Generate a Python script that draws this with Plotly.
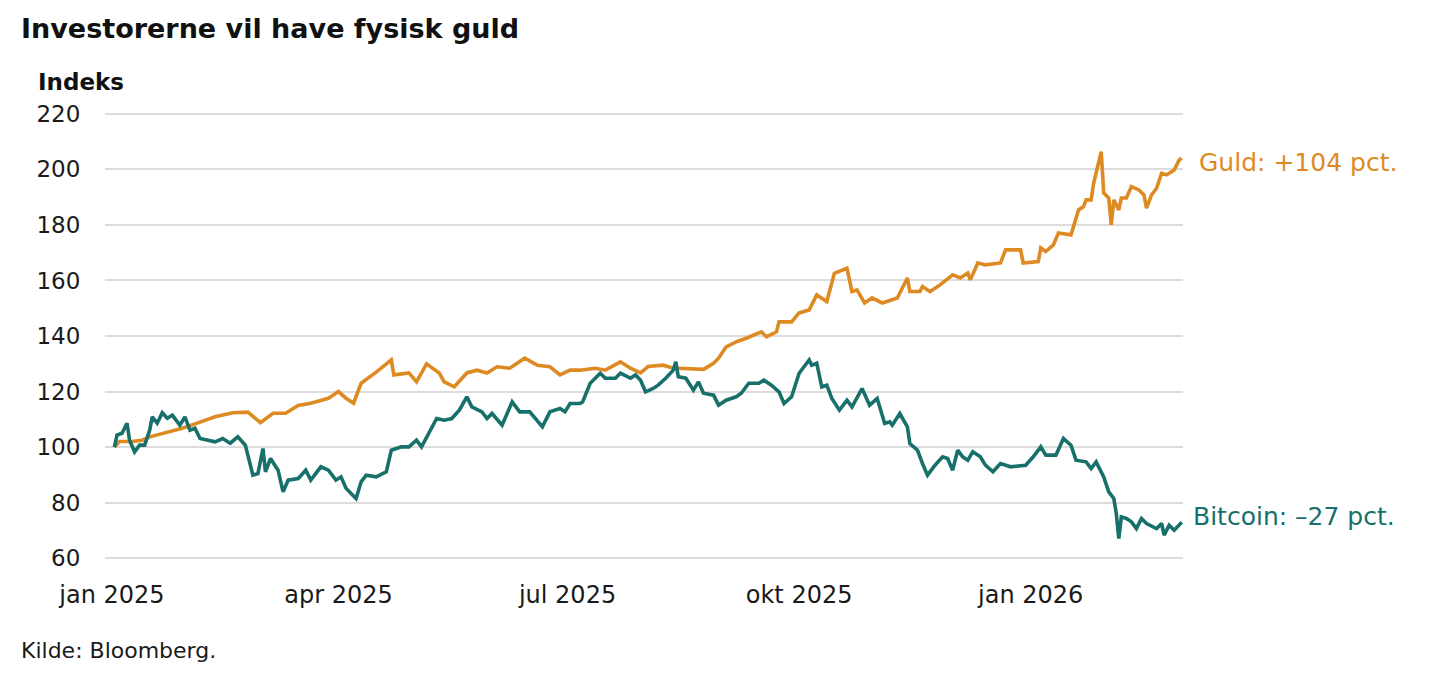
import plotly.graph_objects as go

# ---- Data (index, start = 100) ----
gold_dates = [
    "2025-01-02","2025-01-04","2025-01-09","2025-01-13","2025-01-16","2025-01-23","2025-01-29",
    "2025-02-05","2025-02-11","2025-02-18","2025-02-24","2025-03-01","2025-03-06","2025-03-11",
    "2025-03-16","2025-03-21","2025-03-28","2025-04-01","2025-04-04","2025-04-07","2025-04-10",
    "2025-04-16","2025-04-22","2025-04-23","2025-04-29","2025-05-02","2025-05-06","2025-05-11",
    "2025-05-13","2025-05-17","2025-05-22","2025-05-26","2025-05-30","2025-06-03","2025-06-08",
    "2025-06-14","2025-06-19","2025-06-24","2025-06-28","2025-07-02","2025-07-06","2025-07-12",
    "2025-07-16","2025-07-22","2025-07-26","2025-07-30","2025-08-02","2025-08-08","2025-08-12",
    "2025-08-14","2025-08-24","2025-08-28","2025-08-30","2025-09-02","2025-09-06","2025-09-10",
    "2025-09-16","2025-09-18","2025-09-22","2025-09-23","2025-09-28","2025-10-01","2025-10-05",
    "2025-10-08","2025-10-12","2025-10-15","2025-10-20","2025-10-22","2025-10-24","2025-10-27",
    "2025-10-30","2025-11-03","2025-11-09","2025-11-13","2025-11-14","2025-11-18","2025-11-19",
    "2025-11-22","2025-11-26","2025-12-01","2025-12-04","2025-12-07","2025-12-08","2025-12-11",
    "2025-12-14","2025-12-20","2025-12-22","2025-12-28","2025-12-29","2026-01-04","2026-01-05",
    "2026-01-07","2026-01-10","2026-01-12","2026-01-17","2026-01-20","2026-01-22","2026-01-23",
    "2026-01-25","2026-01-26","2026-01-29","2026-01-30","2026-02-01","2026-02-02","2026-02-03",
    "2026-02-05","2026-02-06","2026-02-08","2026-02-10","2026-02-13","2026-02-15","2026-02-16",
    "2026-02-18","2026-02-20","2026-02-22","2026-02-24","2026-02-27","2026-03-01","2026-03-02",
]
gold_values = [
    100.0, 102.0, 102.0, 102.5, 103.7, 105.5, 106.8,
    109.0, 110.9, 112.4, 112.6, 108.8, 112.2, 112.2,
    115.0, 115.8, 117.6, 120.0, 117.6, 115.8, 123.0,
    127.0, 131.4, 126.0, 126.7, 123.5, 130.0, 126.7,
    123.5, 121.7, 126.7, 127.7, 126.7, 128.9, 128.4,
    132.0, 129.5, 128.9, 126.0, 127.7, 127.7, 128.4,
    127.7, 130.7, 128.4, 126.7, 129.0, 129.5, 128.4,
    128.4, 128.0, 130.2, 132.0, 136.1, 137.9, 139.2,
    141.5, 139.7, 141.5, 145.1, 145.1, 148.3, 149.4,
    154.8, 152.4, 162.6, 164.4, 156.0, 156.6, 151.9,
    153.7, 151.9, 153.7, 160.9, 156.0, 156.0, 157.8,
    156.0, 158.4, 162.0, 160.9, 162.7, 160.2, 166.3,
    165.6, 166.3, 171.0, 171.0, 166.3, 166.8, 171.7,
    170.4, 172.8, 177.1, 176.4, 185.4, 186.6, 189.0,
    189.0, 195.0, 206.4, 191.5, 189.7, 180.0, 189.0,
    185.4, 189.7, 189.7, 193.8, 192.6, 190.8, 186.0,
    190.8, 193.2, 198.6, 198.0, 199.8, 203.4, 204.0,
]

btc_dates = [
    "2025-01-02","2025-01-03","2025-01-05","2025-01-07","2025-01-08","2025-01-10","2025-01-12",
    "2025-01-14","2025-01-16","2025-01-17","2025-01-19","2025-01-21","2025-01-23","2025-01-25",
    "2025-01-28","2025-01-30","2025-02-01","2025-02-03","2025-02-05","2025-02-09","2025-02-11",
    "2025-02-14","2025-02-17","2025-02-20","2025-02-23","2025-02-26","2025-02-28","2025-03-02",
    "2025-03-03","2025-03-05","2025-03-08","2025-03-10","2025-03-12","2025-03-16","2025-03-19",
    "2025-03-21","2025-03-25","2025-03-28","2025-03-31","2025-04-02","2025-04-04","2025-04-06",
    "2025-04-08","2025-04-10","2025-04-12","2025-04-16","2025-04-20","2025-04-22","2025-04-26",
    "2025-04-29","2025-05-02","2025-05-04","2025-05-07","2025-05-10","2025-05-13","2025-05-16",
    "2025-05-19","2025-05-22","2025-05-24","2025-05-28","2025-05-30","2025-06-01","2025-06-05",
    "2025-06-09","2025-06-12","2025-06-16","2025-06-21","2025-06-24","2025-06-28","2025-06-30",
    "2025-07-02","2025-07-06","2025-07-07","2025-07-10","2025-07-14","2025-07-16","2025-07-20",
    "2025-07-22","2025-07-26","2025-07-28","2025-07-30","2025-08-01","2025-08-04","2025-08-06",
    "2025-08-09","2025-08-12","2025-08-13","2025-08-14","2025-08-17","2025-08-20","2025-08-22",
    "2025-08-24","2025-08-28","2025-08-30","2025-09-02","2025-09-06","2025-09-08","2025-09-11",
    "2025-09-15","2025-09-17","2025-09-20","2025-09-23","2025-09-25","2025-09-28","2025-10-01",
    "2025-10-05","2025-10-06","2025-10-08","2025-10-10","2025-10-12","2025-10-14","2025-10-17",
    "2025-10-20","2025-10-22","2025-10-26","2025-10-29","2025-11-01","2025-11-04","2025-11-06",
    "2025-11-07","2025-11-10","2025-11-13","2025-11-14","2025-11-17","2025-11-19","2025-11-21",
    "2025-11-24","2025-11-27","2025-11-29","2025-12-01","2025-12-03","2025-12-05","2025-12-07",
    "2025-12-09","2025-12-12","2025-12-14","2025-12-17","2025-12-20","2025-12-24","2025-12-28",
    "2025-12-30","2026-01-02","2026-01-05","2026-01-07","2026-01-11","2026-01-14","2026-01-17",
    "2026-01-19","2026-01-23","2026-01-25","2026-01-27","2026-01-30","2026-02-01","2026-02-03",
    "2026-02-04","2026-02-05","2026-02-06","2026-02-08","2026-02-10","2026-02-12","2026-02-14",
    "2026-02-16","2026-02-20","2026-02-22","2026-02-23","2026-02-25","2026-02-27","2026-03-02",
]
btc_values = [
    100.0, 104.3, 105.0, 108.6, 102.5, 98.3, 100.7,
    100.7, 106.1, 110.9, 108.6, 112.4, 110.4, 111.5,
    107.9, 110.9, 106.1, 106.8, 103.1, 102.5, 101.9,
    103.1, 101.4, 103.7, 100.7, 89.9, 90.5, 99.5,
    91.1, 95.9, 91.7, 83.9, 88.1, 88.7, 91.7,
    88.1, 92.9, 91.7, 88.1, 89.3, 85.2, 83.3,
    81.5, 87.5, 89.9, 89.3, 91.1, 98.9, 100.1,
    100.1, 102.5, 100.1, 104.9, 110.3, 109.7, 110.3,
    113.3, 118.1, 114.5, 112.7, 110.3, 112.1, 107.9,
    116.3, 112.7, 112.7, 107.3, 112.7, 113.9, 112.7,
    115.7, 115.7, 116.3, 123.0, 126.6, 124.8, 124.8,
    126.6, 124.8, 126.0, 124.1, 119.9, 121.1, 122.3,
    124.8, 127.7, 130.7, 125.3, 124.8, 120.5, 123.5,
    119.4, 118.7, 115.1, 116.9, 118.1, 119.4, 123.0,
    123.0, 124.1, 122.3, 119.9, 115.7, 118.1, 126.6,
    131.4, 129.5, 130.2, 121.7, 122.3, 117.5, 113.3,
    116.9, 114.5, 121.1, 115.1, 117.5, 108.5, 109.1,
    107.9, 112.1, 107.3, 101.3, 98.9, 94.1, 89.9,
    93.5, 96.5, 95.9, 91.7, 98.9, 96.5, 95.3,
    98.3, 96.5, 93.5, 91.1, 94.1, 92.9, 93.5,
    93.5, 96.5, 100.1, 97.1, 97.1, 103.1, 100.7,
    95.3, 94.7, 92.3, 94.7, 89.3, 83.9, 81.5,
    76.1, 67.1, 74.9, 74.3, 73.1, 70.7, 74.3,
    72.5, 70.7, 72.5, 68.3, 71.9, 70.1, 73.0,
]

tick_dates = ["2025-01-01", "2025-04-01", "2025-07-01", "2025-10-01", "2026-01-01"]
tick_labels = ["jan 2025", "apr 2025", "jul 2025", "okt 2025", "jan 2026"]
y_ticks = [60, 80, 100, 120, 140, 160, 180, 200, 220]

GOLD = "#DE8A22"
TEAL = "#17706A"
FONT = "DejaVu Sans"

# figure coordinates (page has an 8px offset)
L, R, T, B = 97, 265, 103, 122
PW = 1440 - L - R
PH = 675 - T - B

fig = go.Figure()
fig.add_trace(go.Scatter(x=gold_dates, y=gold_values, mode="lines",
                         line=dict(color=GOLD, width=3.6), name="Guld"))
fig.add_trace(go.Scatter(x=btc_dates, y=btc_values, mode="lines",
                         line=dict(color=TEAL, width=3.6), name="Bitcoin"))

fig.update_layout(
    width=1440, height=675,
    margin=dict(l=L, r=R, t=T, b=B),
    paper_bgcolor="white", plot_bgcolor="white",
    showlegend=False,
    font=dict(family=FONT, color="#1a1a1a", size=22),
    xaxis=dict(
        range=["2024-12-29 06:00", "2026-03-02 12:00"],
        tickvals=tick_dates, ticktext=tick_labels,
        showgrid=False, zeroline=False, showline=False,
        ticks="outside", ticklen=12, tickcolor="rgba(0,0,0,0)",
        tickfont=dict(family=FONT, size=24, color="#1a1a1a"),
    ),
    yaxis=dict(
        range=[59, 221],
        tickvals=y_ticks,
        showgrid=True, gridcolor="#dcdcdc", gridwidth=2,
        zeroline=False, showline=False,
        ticks="outside", ticklen=19, tickcolor="rgba(0,0,0,0)",
        tickfont=dict(family=FONT, size=23, color="#1a1a1a"),
    ),
)

def px_x(fx):
    return (fx - L) / PW

def px_y(fy):
    return 1 - (fy - T) / PH

fig.add_annotation(text="<b>Investorerne vil have fysisk guld</b>", xref="paper", yref="paper",
                   x=px_x(11), y=px_y(20), xanchor="left", yanchor="middle",
                   showarrow=False, font=dict(family=FONT, size=27, color="#111111"))
fig.add_annotation(text="<b>Indeks</b>", xref="paper", yref="paper",
                   x=px_x(28), y=px_y(74), xanchor="left", yanchor="middle",
                   showarrow=False, font=dict(family=FONT, size=23, color="#111111"))
fig.add_annotation(text="Kilde: Bloomberg.", xref="paper", yref="paper",
                   x=px_x(11), y=px_y(642), xanchor="left", yanchor="middle",
                   showarrow=False, font=dict(family=FONT, size=22, color="#1a1a1a"))

fig.add_annotation(text="Guld: +104 pct.", x=gold_dates[-1], y=gold_values[-1],
                   xanchor="left", yanchor="middle", xshift=15, yshift=-4,
                   showarrow=False, font=dict(family=FONT, size=25, color=GOLD))
fig.add_annotation(text="Bitcoin: –27 pct.", x=btc_dates[-1], y=btc_values[-1],
                   xanchor="left", yanchor="middle", xshift=9, yshift=6,
                   showarrow=False, font=dict(family=FONT, size=25, color=TEAL))

fig.write_html("out.html")
